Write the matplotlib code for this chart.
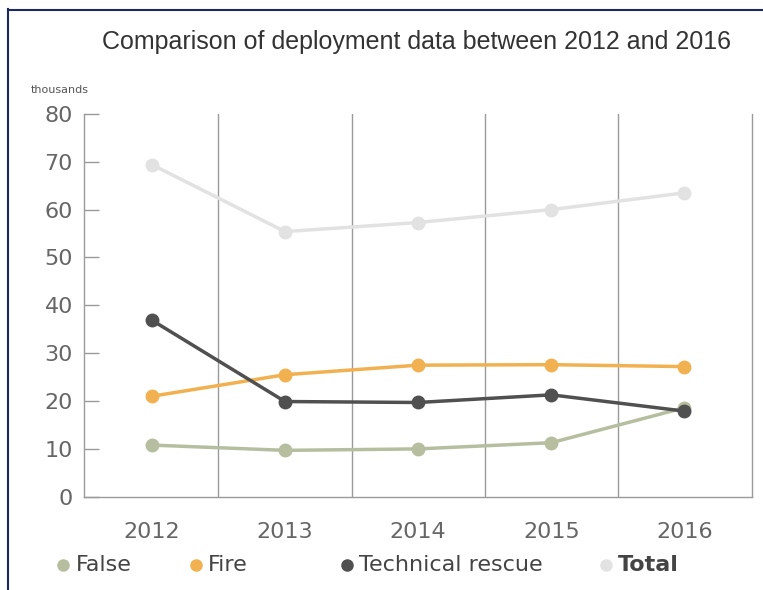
import matplotlib.pyplot as plt
from matplotlib.lines import Line2D

# Deployment data (thousands)
years = ["2012", "2013", "2014", "2015", "2016"]
false_alarms = [10.8, 9.7, 10.0, 11.3, 18.6]
fire = [21.0, 25.5, 27.5, 27.6, 27.2]
technical_rescue = [36.9, 19.9, 19.7, 21.3, 17.9]
total = [69.4, 55.4, 57.3, 60.0, 63.5]

series = [
    ("False", false_alarms, "#b7bea0"),
    ("Fire", fire, "#f2b150"),
    ("Technical rescue", technical_rescue, "#505050"),
    ("Total", total, "#e2e2e2"),
]

fig = plt.figure(figsize=(7.63, 5.90), dpi=100)
ax = fig.add_axes([0.110, 0.158, 0.876, 0.649])

x = range(len(years))
for name, vals, color in series:
    ax.plot(x, vals, color=color, linewidth=2.5, marker="o", markersize=9,
            label=name, zorder=3)

# vertical separators between years
for xv in [0.5, 1.5, 2.5, 3.5]:
    ax.axvline(xv, color="#9a9a9a", linewidth=1, zorder=1)

ax.set_xlim(-0.51, 4.51)
ax.set_ylim(0, 80)
ax.set_yticks(range(0, 81, 10))
ax.set_xticks(list(x))
ax.set_xticklabels(years)

for side in ["left", "bottom", "right"]:
    ax.spines[side].set_color("#9a9a9a")
    ax.spines[side].set_linewidth(1)
ax.spines["top"].set_visible(False)

ax.tick_params(axis="y", direction="in", length=11, width=1, color="#9a9a9a",
               labelsize=16, labelcolor="#666666", pad=8)
ax.tick_params(axis="x", length=0, labelsize=16, labelcolor="#666666", pad=18)

fig.text(0.546, 0.928, "Comparison of deployment data between 2012 and 2016",
         ha="center", va="center", fontsize=18, color="#333333",
         family="Liberation Sans")
fig.text(0.040, 0.848, "thousands", ha="left", va="center", fontsize=8,
         color="#555555")

# legend row
legend_items = [
    (0.083, "False", "#b7bea0", "normal"),
    (0.257, "Fire", "#f2b150", "normal"),
    (0.455, "Technical rescue", "#505050", "normal"),
    (0.794, "Total", "#e2e2e2", "bold"),
]
for xpos, label, color, weight in legend_items:
    fig.add_artist(Line2D([xpos], [0.042], marker="o", markersize=8,
                          color=color, linestyle="none"))
    fig.text(xpos + 0.016, 0.042, label, ha="left", va="center",
             fontsize=16, color="#444444", fontweight=weight)

# frame lines of the original image
fig.add_artist(Line2D([0.011, 0.011], [0.0, 0.985], color="#1a2a5a", linewidth=1.5))
fig.add_artist(Line2D([0.011, 1.0], [0.983, 0.983], color="#1a2a5a", linewidth=1.5))

fig.savefig("out.png", dpi=100)
